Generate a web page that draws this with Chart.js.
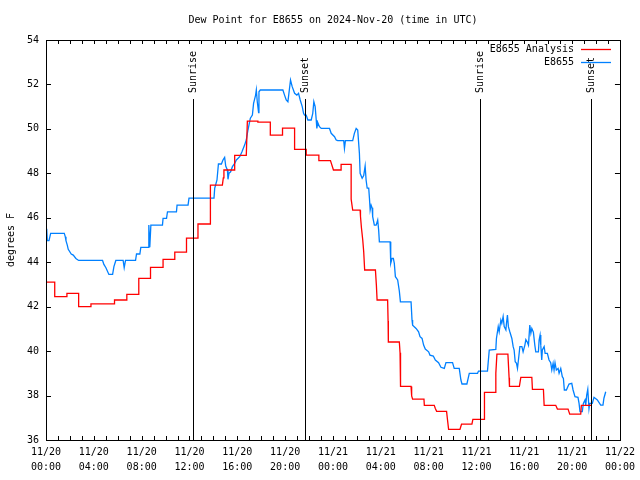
<!DOCTYPE html>
<html>
<head>
<meta charset="utf-8">
<script src="https://cdn.jsdelivr.net/npm/chart.js@4/dist/chart.umd.min.js"></script>
<style>
  html, body { margin: 0; padding: 0; background: #fff; }
  #wrap { width: 640px; height: 480px; }
</style>
</head>
<body>
<div id="wrap"><canvas id="c" width="640" height="480"></canvas></div>
<script>
// Hours since 2024-11-20 00:00 UTC
const titleText = "Dew Point for E8655 on 2024-Nov-20 (time in UTC)";
const yAxisTitle = "degrees F";
const seriesNames = ["E8655 Analysis", "E8655"];
const tickLabels = [
  ["11/20","00:00"],["11/20","04:00"],["11/20","08:00"],["11/20","12:00"],
  ["11/20","16:00"],["11/20","20:00"],["11/21","00:00"],["11/21","04:00"],
  ["11/21","08:00"],["11/21","12:00"],["11/21","16:00"],["11/21","20:00"],
  ["11/22","00:00"]
];
const sunTimes = [12.27, 21.62, 36.31, 45.58];
const sunLabels = ["Sunrise", "Sunset", "Sunrise", "Sunset"];

const analysisT = [0,0.73,0.73,1.75,1.75,2.73,2.73,3.76,3.76,5.73,5.73,6.76,6.76,7.76,7.76,8.74,8.74,9.79,9.79,10.77,10.77,11.75,11.75,12.71,12.71,13.75,13.75,14.75,14.83,14.88,15.78,15.78,16.75,16.84,17.72,17.72,18.76,18.76,19.78,19.78,20.79,20.79,21.76,21.76,22.82,22.82,23.79,24.04,24.68,24.68,25.52,25.52,25.65,26.27,26.30,26.38,26.49,26.57,26.65,27.55,27.63,27.69,28.57,28.61,28.63,29.55,29.61,29.64,29.66,30.53,30.58,30.66,31.61,31.64,32.47,32.56,32.67,33.50,33.58,33.67,34.62,34.75,35.62,35.70,36.65,36.67,37.57,37.62,37.71,38.63,38.73,38.76,39.59,39.71,40.63,40.68,41.60,41.66,42.63,42.77,43.66,43.80,44.72,44.77,45.66];
const analysisV = [43.1,43.1,42.45,42.45,42.6,42.6,42.0,42.0,42.13,42.13,42.3,42.3,42.55,42.55,43.27,43.27,43.77,43.77,44.13,44.13,44.45,44.45,45.08,45.08,45.72,45.72,47.47,47.47,47.8,48.15,48.15,48.81,48.81,50.35,50.35,50.3,50.3,49.72,49.72,50.03,50.03,49.08,49.08,48.82,48.82,48.57,48.57,48.15,48.15,48.4,48.4,46.84,46.34,46.34,46.07,45.55,45.0,44.47,43.65,43.65,42.97,42.3,42.3,41.35,40.41,40.41,39.93,38.9,38.41,38.41,37.98,37.84,37.84,37.56,37.56,37.42,37.29,37.29,36.9,36.48,36.48,36.71,36.71,36.93,36.93,38.14,38.14,39.0,39.86,39.86,38.8,38.41,38.41,38.82,38.82,38.28,38.28,37.56,37.56,37.39,37.39,37.16,37.16,37.56,37.56];

const obsT = [0.06,0.11,0.25,0.39,1.53,1.61,1.67,1.78,1.86,2.11,2.28,2.50,2.73,4.73,4.84,5.01,5.26,5.57,5.68,5.84,6.45,6.54,6.65,7.49,7.57,7.85,7.93,8.54,8.60,8.68,8.77,9.74,9.79,10.08,10.16,10.91,10.96,11.88,11.96,14.05,14.11,14.30,14.42,14.67,14.80,14.94,15.03,15.17,15.22,15.30,15.44,15.59,15.78,15.92,16.20,16.39,16.61,16.75,16.89,17.09,17.26,17.36,17.53,17.59,17.67,17.78,17.81,17.92,19.81,19.95,20.09,20.23,20.45,20.59,20.79,20.98,21.12,21.26,21.43,21.54,21.62,21.76,21.90,22.18,22.31,22.40,22.51,22.60,22.65,22.73,22.87,23.02,23.71,23.85,24.13,24.27,24.40,24.90,24.96,25.04,25.65,25.79,25.94,26.07,26.21,26.27,26.44,26.57,26.69,26.77,26.86,26.99,27.05,27.11,27.19,27.27,27.32,27.46,27.61,27.74,27.82,27.88,28.78,28.83,28.94,29.05,29.13,29.22,29.41,29.55,29.64,30.53,30.61,30.66,30.95,31.16,31.28,31.45,31.58,31.72,32.00,32.11,32.39,32.56,32.83,33.03,33.31,33.45,34.00,34.14,34.56,34.70,34.79,35.20,35.40,36.09,36.17,36.92,37.07,37.62,37.67,37.82,37.90,38.04,38.12,38.23,38.32,38.46,38.51,38.59,38.67,38.79,38.96,39.07,39.15,39.24,39.35,39.43,39.51,39.63,39.80,39.90,40.05,40.13,40.26,40.35,40.46,40.55,40.63,40.76,40.88,40.96,41.18,41.24,41.32,41.38,41.46,41.51,41.66,41.74,41.93,42.07,42.21,42.30,42.41,42.49,42.57,42.68,42.83,42.91,43.05,43.18,43.27,43.35,43.52,43.74,43.97,44.08,44.24,44.49,44.58,44.66,44.85,44.94,45.08,45.14,45.22,45.31,45.41,45.47,45.69,45.83,46.11,46.39,46.58,46.66,46.81];
const obsV = [45.5,44.97,44.97,45.3,45.3,45.15,44.97,44.77,44.58,44.37,44.32,44.17,44.08,44.08,43.9,43.75,43.45,43.45,43.8,44.08,44.08,43.75,44.08,44.08,44.37,44.37,44.67,44.67,45.67,44.67,45.67,45.67,45.97,45.97,46.27,46.27,46.57,46.57,46.88,46.88,47.33,47.7,48.42,48.42,48.6,48.72,48.33,48.15,47.73,48.0,48.07,48.3,48.45,48.6,48.75,48.97,49.27,49.5,49.95,50.48,50.62,51.15,51.52,51.75,51.22,50.73,51.67,51.75,51.75,51.52,51.3,51.22,52.2,51.9,51.6,51.52,51.6,51.3,51.0,50.7,50.62,50.62,50.4,50.4,50.7,51.22,51.0,50.4,50.02,50.28,50.1,50.02,50.02,49.8,49.65,49.5,49.47,49.47,49.12,49.47,49.47,49.8,50.02,49.95,48.9,48.0,47.78,47.9,48.33,47.7,47.33,47.33,46.88,46.35,46.57,46.45,46.05,45.67,45.67,45.9,45.45,44.92,44.92,43.95,44.17,44.17,43.95,43.35,43.2,42.7,42.22,42.22,41.4,41.17,41.02,40.87,40.65,40.57,40.27,40.09,39.97,39.82,39.78,39.6,39.48,39.27,39.22,39.48,39.48,39.22,39.22,38.7,38.52,38.52,39.0,39.0,39.1,39.1,40.05,40.08,40.57,41.1,40.87,41.4,41.25,41.55,41.1,40.95,41.25,41.62,41.1,40.87,40.57,40.2,40.05,39.52,39.45,39.22,39.6,40.2,40.2,39.97,40.27,40.52,40.4,40.27,41.17,40.8,41.02,40.85,40.27,39.97,39.97,40.5,40.72,40.27,39.6,40.05,40.2,39.9,39.9,39.6,39.48,39.15,39.45,39.15,39.48,39.15,39.22,39.0,39.22,38.85,38.77,38.25,38.25,38.52,38.55,38.25,37.95,37.92,37.65,37.28,37.28,37.65,37.8,37.57,38.02,38.28,37.42,37.65,37.65,37.92,37.8,37.57,37.57,37.88,38.17];

const FONT = "DejaVu Sans Mono";

const framePlugin = {
  id: 'frame',
  afterDatasetsDraw(chart) {
    const ctx = chart.ctx;
    const a = chart.chartArea;
    const xs = chart.scales.x, ys = chart.scales.y;
    ctx.save();
    ctx.strokeStyle = '#000';
    ctx.lineWidth = 1;
    ctx.beginPath();
    for (let h = xs.min; h <= xs.max; h += 1) {
      const px = Math.round(xs.getPixelForValue(h)) + 0.5;
      ctx.moveTo(px, a.bottom); ctx.lineTo(px, a.bottom - 4);
      ctx.moveTo(px, a.top); ctx.lineTo(px, a.top + 4);
    }
    for (let v = ys.min; v <= ys.max; v += 2) {
      const py = Math.round(ys.getPixelForValue(v)) + 0.5;
      ctx.moveTo(a.left, py); ctx.lineTo(a.left + 5, py);
      ctx.moveTo(a.right, py); ctx.lineTo(a.right - 5, py);
    }
    ctx.stroke();
    ctx.beginPath();
    sunTimes.forEach(t => {
      const px = Math.round(xs.getPixelForValue(t)) + 0.5;
      ctx.moveTo(px, 99); ctx.lineTo(px, a.bottom);
    });
    ctx.stroke();
    ctx.fillStyle = '#000';
    ctx.font = "10px '" + FONT + "'";
    sunTimes.forEach((t, i) => {
      const px = Math.round(xs.getPixelForValue(t)) + 0.5;
      ctx.save();
      ctx.translate(px, 93);
      ctx.rotate(-Math.PI / 2);
      ctx.textAlign = 'left';
      ctx.textBaseline = 'middle';
      ctx.fillText(sunLabels[i], 0, 0);
      ctx.restore();
    });
    ctx.strokeRect(Math.round(a.left) + 0.5, Math.round(a.top) + 0.5,
                   Math.round(a.right - a.left), Math.round(a.bottom - a.top));
    const colors = chart.data.datasets.map(d => d.borderColor);
    ctx.textAlign = 'right';
    ctx.textBaseline = 'middle';
    [49, 62].forEach((y, i) => {
      ctx.fillStyle = '#000';
      ctx.fillText(seriesNames[i], 574, y);
      ctx.strokeStyle = colors[i];
      ctx.lineWidth = 1.3;
      ctx.beginPath();
      ctx.moveTo(581, y + 0.5); ctx.lineTo(611, y + 0.5);
      ctx.stroke();
    });
    ctx.fillStyle = '#000';
    ctx.textAlign = 'center';
    ctx.fillText(titleText, 333, 20);
    ctx.restore();
  }
};

new Chart(document.getElementById('c'), {
  type: 'line',
  data: {
    datasets: [
      {
        label: seriesNames[0],
        data: analysisT.map((t, i) => ({ x: t, y: analysisV[i] })),
        borderColor: '#ff0000',
        borderWidth: 1.3,
        pointRadius: 0,
        tension: 0,
        fill: false
      },
      {
        label: seriesNames[1],
        data: obsT.map((t, i) => ({ x: t, y: obsV[i] })),
        borderColor: '#0080ff',
        borderWidth: 1.3,
        pointRadius: 0,
        tension: 0,
        fill: false
      }
    ]
  },
  options: {
    responsive: false,
    animation: false,
    events: [],
    layout: { padding: { left: 0, right: 19, top: 40, bottom: 0 } },
    plugins: { legend: { display: false }, title: { display: false }, tooltip: { enabled: false } },
    scales: {
      x: {
        type: 'linear',
        min: 0, max: 48,
        grid: { display: false, drawTicks: false },
        border: { display: false },
        ticks: {
          stepSize: 4,
          autoSkip: false,
          maxRotation: 0,
          padding: 5,
          color: '#000',
          font: { family: FONT, size: 10, lineHeight: 1.5 },
          callback: (v) => tickLabels[Math.round(v / 4)]
        },
        afterFit: (s) => { s.height = 40; }
      },
      y: {
        min: 36, max: 54,
        grid: { display: false, drawTicks: false },
        border: { display: false },
        ticks: {
          stepSize: 2,
          padding: 7,
          color: '#000',
          font: { family: FONT, size: 10 }
        },
        title: {
          display: true,
          text: yAxisTitle,
          color: '#000',
          padding: { top: 5, bottom: 0 },
          font: { family: FONT, size: 10 }
        },
        afterFit: (s) => { s.width = 46; }
      }
    }
  },
  plugins: [framePlugin]
});
</script>
</body>
</html>
